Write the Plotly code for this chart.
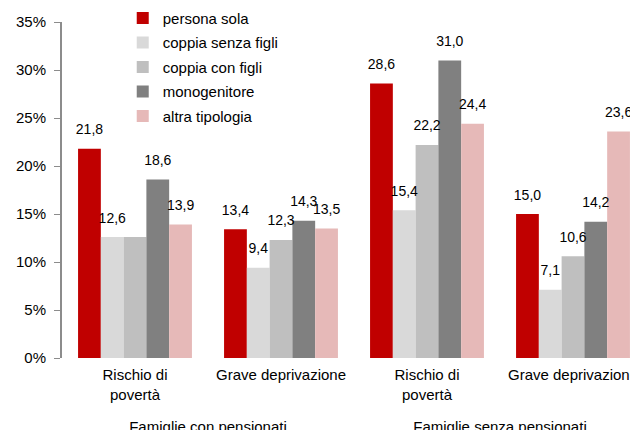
import plotly.graph_objects as go

outer = ["Famiglie con pensionati", "Famiglie con pensionati",
         "Famiglie senza pensionati", "Famiglie senza pensionati"]
inner = ["Rischio di<br>povertà<br> ", "Grave deprivazione",
         "Rischio di<br>povertà<br> ", "Grave deprivazione"]

series_names = ["persona sola", "coppia senza figli", "coppia con figli",
                "monogenitore", "altra tipologia"]
persona_sola = [21.8, 13.4, 28.6, 15.0]
coppia_senza_figli = [12.6, 9.4, 15.4, 7.1]
coppia_con_figli = [12.6, 12.3, 22.2, 10.6]
monogenitore = [18.6, 14.3, 31.0, 14.2]
altra_tipologia = [13.9, 13.5, 24.4, 23.6]
series_values = [persona_sola, coppia_senza_figli, coppia_con_figli,
                 monogenitore, altra_tipologia]
colors = ["#C00000", "#D9D9D9", "#BFBFBF", "#808080", "#E6B9B8"]
# label hidden in reference (overlapping duplicate)
hidden = {(2, 0)}

y_ticks = [0, 5, 10, 15, 20, 25, 30, 35]
y_ticktext = [f"{t}%" for t in y_ticks]

fig = go.Figure()
for si, (name, vals, col) in enumerate(zip(series_names, series_values, colors)):
    fig.add_trace(go.Bar(
        x=[outer, inner], y=vals, name=name, marker_color=col,
        marker_line_width=0, offsetgroup=str(si), legendgroup=name,
    ))
for si, (name, vals) in enumerate(zip(series_names, series_values)):
    texts = ["" if (si, i) in hidden else f"{v:.1f}".replace(".", ",")
             for i, v in enumerate(vals)]
    fig.add_trace(go.Scatter(
        x=[outer, inner], y=vals, mode="markers+text", text=texts,
        textposition="top center", textfont=dict(size=14, color="#000000"),
        marker=dict(size=16, opacity=0), offsetgroup=str(si),
        showlegend=False, hoverinfo="skip", cliponaxis=False,
    ))

fig.update_layout(
    width=638, height=430,
    margin=dict(l=54, r=0, t=14, b=80, autoexpand=False),
    barmode="group", bargap=0.22, bargroupgap=0,
    scattermode="group", scattergap=0.22,
    plot_bgcolor="white", paper_bgcolor="white",
    font=dict(family="Liberation Sans, Arial, sans-serif", size=15, color="#000000"),
    legend=dict(x=0.104, y=1.06, xanchor="left", yanchor="top",
                bgcolor="rgba(0,0,0,0)", font=dict(size=15),
                tracegroupgap=2, itemwidth=30),
    showlegend=True,
)
fig.update_xaxes(showdividers=False, showline=False, ticks="",
                 tickfont=dict(size=15), automargin=False,
                 ticklabelstandoff=6)
fig.update_yaxes(range=[0, 35], tickvals=y_ticks, ticktext=y_ticktext,
                 showgrid=False, zeroline=False, automargin=False,
                 showline=True, linecolor="#8C8C8C", linewidth=2,
                 ticks="outside", ticklen=6, tickcolor="#8C8C8C",
                 tickfont=dict(size=15), ticklabelstandoff=5)

fig.write_html("out.html")
